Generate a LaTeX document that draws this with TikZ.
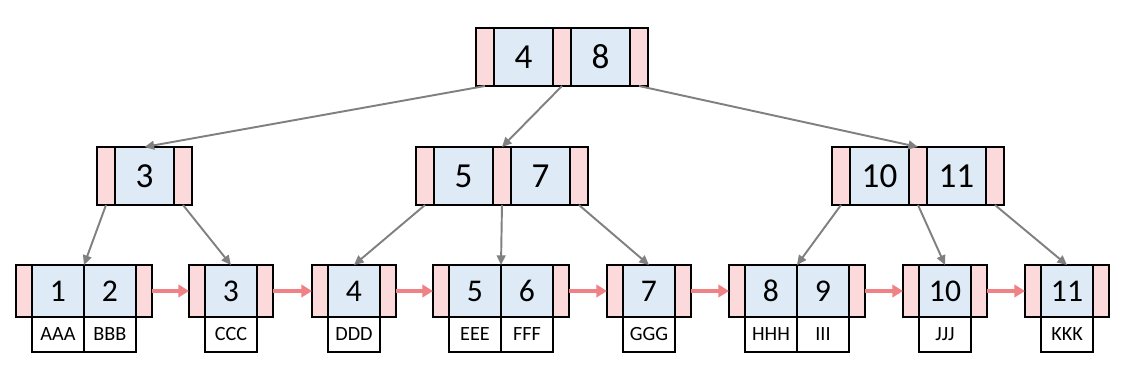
\documentclass[tikz,border=0pt]{standalone}
\usepackage{fontspec}
\setmainfont{Carlito}
\usetikzlibrary{positioning,arrows.meta}

\definecolor{ptrpink}{RGB}{252,217,219}
\definecolor{keyblue}{RGB}{222,234,246}
\definecolor{linkgray}{RGB}{128,128,128}
\definecolor{nextred}{RGB}{240,130,134}

\tikzset{
  cell/.style={draw, line width=1.2pt, inner sep=0pt, outer sep=0pt},
  ptr/.style={cell, fill=ptrpink, minimum width=0.36cm, minimum height=1.16cm, anchor=north west},
  key/.style={cell, fill=keyblue, minimum width=1.18cm, minimum height=1.16cm, font=\fontsize{20}{20}\selectfont},
  lptr/.style={cell, fill=ptrpink, minimum width=0.32cm, minimum height=1.04cm, anchor=north west},
  lkey/.style={cell, fill=keyblue, minimum width=1.04cm, minimum height=1.04cm, font=\fontsize{18}{18}\selectfont},
  rec/.style={cell, fill=white, minimum width=1.04cm, minimum height=0.7cm, font=\fontsize{11.5}{11.5}\selectfont},
  link/.style={draw=linkgray, line width=1.1pt, -{Triangle[length=5.5pt,width=5pt]}},
  next/.style={draw=nextred, line width=2.6pt, -{Triangle[length=6pt,width=7pt]}}
}

\begin{document}
\begin{tikzpicture}[x=0.02cm,y=-0.02cm]
\useasboundingbox (0,0) rectangle (1125,383);

% root
\node[ptr] (rp1) at (476,28) {};
\node[key, right=0pt of rp1] (rk1) {4};
\node[ptr, right=0pt of rk1, anchor=west] (rp2) {};
\node[key, right=0pt of rp2] (rk2) {8};
\node[ptr, right=0pt of rk2, anchor=west] (rp3) {};

% second level
\node[ptr] (ap1) at (97,147) {};
\node[key, right=0pt of ap1] (ak1) {3};
\node[ptr, right=0pt of ak1, anchor=west] (ap2) {};

\node[ptr] (bp1) at (416,147) {};
\node[key, right=0pt of bp1] (bk1) {5};
\node[ptr, right=0pt of bk1, anchor=west] (bp2) {};
\node[key, right=0pt of bp2] (bk2) {7};
\node[ptr, right=0pt of bk2, anchor=west] (bp3) {};

\node[ptr] (cp1) at (832,147) {};
\node[key, right=0pt of cp1] (ck1) {10};
\node[ptr, right=0pt of ck1, anchor=west] (cp2) {};
\node[key, right=0pt of cp2] (ck2) {11};
\node[ptr, right=0pt of ck2, anchor=west] (cp3) {};

% leaves
\node[lptr] (l1p1) at (16,265) {};
\node[lkey, right=0pt of l1p1] (l1k1) {1};
\node[lkey, right=0pt of l1k1] (l1k2) {2};
\node[lptr, right=0pt of l1k2, anchor=west] (l1p2) {};
\node[rec, below=0pt of l1k1] (l1d1) {AAA};
\node[rec, below=0pt of l1k2] (l1d2) {BBB};

\node[lptr] (l2p1) at (189,265) {};
\node[lkey, right=0pt of l2p1] (l2k1) {3};
\node[lptr, right=0pt of l2k1, anchor=west] (l2p2) {};
\node[rec, below=0pt of l2k1] (l2d1) {CCC};

\node[lptr] (l3p1) at (312,265) {};
\node[lkey, right=0pt of l3p1] (l3k1) {4};
\node[lptr, right=0pt of l3k1, anchor=west] (l3p2) {};
\node[rec, below=0pt of l3k1] (l3d1) {DDD};

\node[lptr] (l4p1) at (433,265) {};
\node[lkey, right=0pt of l4p1] (l4k1) {5};
\node[lkey, right=0pt of l4k1] (l4k2) {6};
\node[lptr, right=0pt of l4k2, anchor=west] (l4p2) {};
\node[rec, below=0pt of l4k1] (l4d1) {EEE};
\node[rec, below=0pt of l4k2] (l4d2) {FFF};

\node[lptr] (l5p1) at (607,265) {};
\node[lkey, right=0pt of l5p1] (l5k1) {7};
\node[lptr, right=0pt of l5k1, anchor=west] (l5p2) {};
\node[rec, below=0pt of l5k1] (l5d1) {GGG};

\node[lptr] (l6p1) at (729,265) {};
\node[lkey, right=0pt of l6p1] (l6k1) {8};
\node[lkey, right=0pt of l6k1] (l6k2) {9};
\node[lptr, right=0pt of l6k2, anchor=west] (l6p2) {};
\node[rec, below=0pt of l6k1] (l6d1) {HHH};
\node[rec, below=0pt of l6k2] (l6d2) {III};

\node[lptr] (l7p1) at (903,265) {};
\node[lkey, right=0pt of l7p1] (l7k1) {10};
\node[lptr, right=0pt of l7k1, anchor=west] (l7p2) {};
\node[rec, below=0pt of l7k1] (l7d1) {JJJ};

\node[lptr] (l8p1) at (1025,265) {};
\node[lkey, right=0pt of l8p1] (l8k1) {11};
\node[lptr, right=0pt of l8k1, anchor=west] (l8p2) {};
\node[rec, below=0pt of l8k1] (l8d1) {KKK};

% tree pointers
\draw[link] (rp1.south) -- (ak1.north);
\draw[link] (rp2.south) -- (bp2.north);
\draw[link] (rp3.south) -- (cp2.north);

\draw[link] (ap1.south) -- (l1k1.north east);
\draw[link] (ap2.south) -- (l2k1.north);

\draw[link] (bp1.south) -- (l3k1.north);
\draw[link] (bp2.south) -- (l4k1.north east);
\draw[link] (bp3.south) -- (l5k1.north);

\draw[link] (cp1.south) -- (l6k1.north east);
\draw[link] (cp2.south) -- (l7k1.north);
\draw[link] (cp3.south) -- (l8k1.north);

% leaf chain
\draw[next] (l1p2.east) -- (l2p1.west);
\draw[next] (l2p2.east) -- (l3p1.west);
\draw[next] (l3p2.east) -- (l4p1.west);
\draw[next] (l4p2.east) -- (l5p1.west);
\draw[next] (l5p2.east) -- (l6p1.west);
\draw[next] (l6p2.east) -- (l7p1.west);
\draw[next] (l7p2.east) -- (l8p1.west);
\end{tikzpicture}
\end{document}
